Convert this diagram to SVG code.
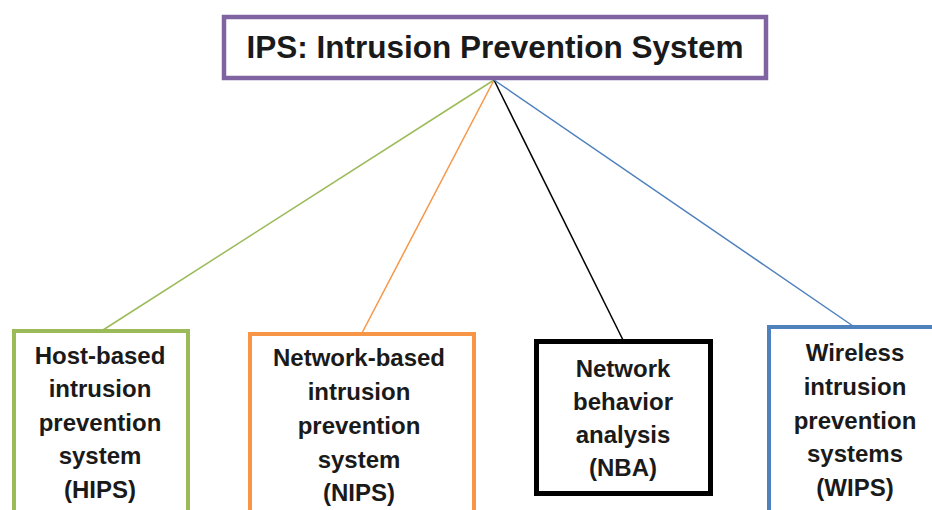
<svg xmlns="http://www.w3.org/2000/svg" width="932" height="510" viewBox="0 0 932 510">
<style>
.box{fill:#fff;}
.t{font-family:"Liberation Sans",Arial,sans-serif;font-weight:bold;fill:#1a1a1a;text-anchor:middle;}
.c{font-size:24px;}
.title{font-size:31.5px;}
.ln{fill:none;stroke-width:1.5;}
</style>
<rect width="932" height="510" fill="#fff"/>
<g id="connectors">
<line class="ln" x1="494" y1="80" x2="103" y2="330" stroke="#9BBB59"/>
<line class="ln" x1="494" y1="80" x2="362" y2="333" stroke="#F79646"/>
<line class="ln" x1="494" y1="80" x2="623" y2="340" stroke="#000"/>
<line class="ln" x1="494" y1="80" x2="853" y2="326" stroke="#4F81BD"/>
</g>
<g id="ips">
<rect class="box" x="224" y="17" width="542" height="61" stroke="#8064A2" stroke-width="4.5"/>
<text class="t title" x="495" y="58">IPS: Intrusion Prevention System</text>
</g>
<g id="hips">
<rect class="box" x="14" y="331" width="174" height="200" stroke="#9BBB59" stroke-width="4"/>
<text class="t c"><tspan x="100" y="364">Host-based</tspan><tspan x="100" y="397">intrusion</tspan><tspan x="100" y="431">prevention</tspan><tspan x="100" y="464">system</tspan><tspan x="100" y="498">(HIPS)</tspan></text>
</g>
<g id="nips">
<rect class="box" x="250" y="334" width="224" height="200" stroke="#F79646" stroke-width="4"/>
<text class="t c"><tspan x="359" y="366">Network-based</tspan><tspan x="359" y="400">intrusion</tspan><tspan x="359" y="434">prevention</tspan><tspan x="359" y="468">system</tspan><tspan x="359" y="501">(NIPS)</tspan></text>
</g>
<g id="nba">
<rect class="box" x="536.5" y="341.5" width="174" height="152" stroke="#000" stroke-width="5"/>
<text class="t c"><tspan x="623" y="377">Network</tspan><tspan x="623" y="410">behavior</tspan><tspan x="623" y="443">analysis</tspan><tspan x="623" y="476">(NBA)</tspan></text>
</g>
<g id="wips">
<rect class="box" x="769" y="327" width="180" height="200" stroke="#4F81BD" stroke-width="4"/>
<text class="t c"><tspan x="855" y="361">Wireless</tspan><tspan x="855" y="395">intrusion</tspan><tspan x="855" y="429">prevention</tspan><tspan x="855" y="462">systems</tspan><tspan x="855" y="496">(WIPS)</tspan></text>
</g>
</svg>
